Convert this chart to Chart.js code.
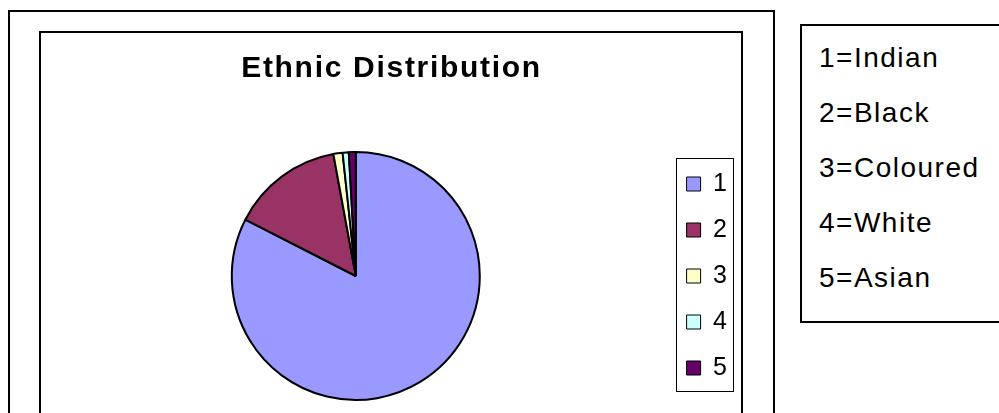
<!DOCTYPE html>
<html>
<head>
<meta charset="utf-8">
<script src="https://cdn.jsdelivr.net/npm/chart.js@4.4.1/dist/chart.umd.min.js"></script>
<style>
  html, body { margin: 0; padding: 0; background: #fff; }
  body { width: 999px; height: 413px; overflow: hidden; position: relative; font-family: "Liberation Sans", Arial, sans-serif; }
  .frame { position: absolute; box-sizing: border-box; border: 2px solid #000; }
  #outer { left: 8px; top: 10px; width: 767px; height: 500px; }
  #inner { left: 39px; top: 31px; width: 704px; height: 500px; }
  #chart { position: absolute; left: 41px; top: 33px; }
  #key { left: 800px; top: 24px; width: 260px; height: 299px; }
  #key-text { position: absolute; left: 819px; top: 30px; font-size: 28px; line-height: 55px; letter-spacing: 1.5px; color: #000; }
</style>
</head>
<body>
<div class="frame" id="outer"></div>
<div class="frame" id="inner"></div>
<canvas id="chart" width="699" height="380"></canvas>
<div class="frame" id="key"></div>
<div id="key-text"></div>

<script>
// category codes, their meaning and share of respondents (%)
const codes = ['1', '2', '3', '4', '5'];
const groups = ['Indian', 'Black', 'Coloured', 'White', 'Asian'];
const shares = [82.5, 14.6, 1.2, 0.8, 0.9];
const sliceColors = ['#9999FF', '#993366', '#FFFFCC', '#CCFFFF', '#660066'];

const FONT = '"Liberation Sans", Arial, sans-serif';

// code key box on the right
document.getElementById('key-text').innerHTML =
  codes.map((c, i) => `<div>${c}=${groups[i]}</div>`).join('');

// a little letter spacing for the canvas text, and a frame round the legend
const framePlugin = {
  id: 'framePlugin',
  beforeDraw(chart) {
    chart.ctx.letterSpacing = '1.7px';
  },
  afterDraw(chart) {
    const ctx = chart.ctx;
    ctx.letterSpacing = '0px';
    const hits = chart.legend.legendHitBoxes;
    if (!hits || !hits.length) return;
    const first = hits[0];
    const last = hits[hits.length - 1];
    const x0 = Math.round(first.left - 11) + 0.5;
    const y0 = Math.round(first.top - 14) + 0.5;
    const x1 = Math.round(first.left + 46) + 0.5;
    const y1 = Math.round(last.top + last.height + 10) + 0.5;
    ctx.save();
    ctx.strokeStyle = '#000';
    ctx.lineWidth = 1;
    ctx.strokeRect(x0, y0, x1 - x0, y1 - y0);
    ctx.restore();
  }
};

new Chart(document.getElementById('chart'), {
  type: 'pie',
  data: {
    labels: codes,
    datasets: [{
      data: shares,
      backgroundColor: sliceColors,
      borderColor: '#000',
      borderWidth: 2
    }]
  },
  options: {
    responsive: false,
    animation: false,
    radius: 124,
    layout: { padding: { left: 5, right: 3, top: 0, bottom: 0 } },
    plugins: {
      title: {
        display: true,
        text: 'Ethnic Distribution',
        color: '#000',
        font: { family: FONT, size: 30, weight: 'bold' },
        padding: { top: 18, bottom: 52 }
      },
      legend: {
        position: 'right',
        fullSize: false,
        labels: {
          color: '#000',
          font: { family: FONT, size: 25 },
          boxWidth: 14,
          boxHeight: 14,
          padding: 21,
          generateLabels: chart =>
            Chart.overrides.pie.plugins.legend.labels.generateLabels(chart)
              .map(item => ({ ...item, lineWidth: 1, strokeStyle: '#000' }))
        }
      },
      tooltip: { enabled: false }
    }
  },
  plugins: [framePlugin]
});
</script>
</body>
</html>
